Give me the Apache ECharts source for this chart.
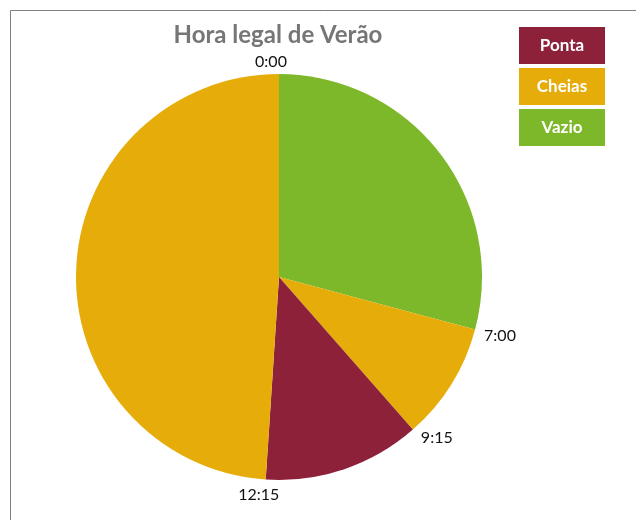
<!DOCTYPE html>
<html>
<head>
<meta charset="utf-8">
<script src="https://cdn.jsdelivr.net/npm/echarts@6/dist/echarts.min.js"></script>
<style>
  html, body { margin: 0; padding: 0; background: #fff; }
  #chart { width: 636px; height: 520px; }
</style>
</head>
<body>
<div id="chart"></div>
<script>
const myChart = echarts.init(document.querySelector('#chart'));

// slices in clock order starting at 0:00
const periods = ['Vazio', 'Cheias', 'Ponta', 'Cheias'];
const hours = [7, 2.25, 3, 11.75];
const startTimes = ['0:00', '7:00', '9:15', '12:15'];
const legendNames = ['Ponta', 'Cheias', 'Vazio'];

const periodColor = { Ponta: '#8c2139', Cheias: '#e6ad0a', Vazio: '#7db82a' };
const richKey = { Ponta: 'p', Cheias: 'c', Vazio: 'v' };
const font = 'Lato, "Open Sans", sans-serif';

// nudges for the time labels so they sit like in the original
const labelNudge = {
  '0:00': { dx: -4, dy: -12, align: 'center' },
  '7:00': { dx: 5, dy: 6 },
  '9:15': { dx: 4, dy: 8 },
  '12:15': { dx: -3, dy: 15, align: 'center' }
};

// zero-width marker slices at every start time, invisible filler slices in between
const markerData = [];
hours.forEach((h, i) => {
  markerData.push({ name: startTimes[i], value: 0 });
  markerData.push({ name: '', value: h, label: { show: false } });
});

const rich = {};
legendNames.forEach(n => {
  rich[richKey[n]] = {
    width: 86, height: 37, lineHeight: 37, align: 'center',
    backgroundColor: periodColor[n], color: '#fff',
    fontFamily: font, fontWeight: 'bold', fontSize: 17
  };
});

myChart.setOption({
  animation: false,
  title: {
    text: 'Hora legal de Verão',
    left: 273, top: 18, textAlign: 'center',
    textStyle: { fontFamily: font, fontWeight: 'bold', fontSize: 24, color: '#767676' }
  },
  legend: {
    orient: 'vertical',
    left: 509, top: 22,
    itemGap: 4, itemWidth: 0, itemHeight: 0,
    selectedMode: false,
    data: legendNames,
    formatter: name => `{${richKey[name]}|${name}}`,
    textStyle: { rich }
  },
  graphic: [{
    type: 'rect',
    silent: true,
    shape: { x: 10.5, y: 10.5, width: 700, height: 600 },
    style: { fill: 'none', stroke: '#7f7f7f', lineWidth: 1 }
  }],
  series: [
    {
      type: 'pie',
      center: [279, 277],
      radius: 203,
      startAngle: 90,
      silent: true,
      label: { show: false },
      labelLine: { show: false },
      emphasis: { disabled: true },
      data: periods.map((p, i) => ({
        name: p, value: hours[i], itemStyle: { color: periodColor[p] }
      }))
    },
    {
      type: 'pie',
      center: [279, 277],
      radius: 203,
      startAngle: 90,
      silent: true,
      avoidLabelOverlap: false,
      itemStyle: { color: 'rgba(0,0,0,0)' },
      emphasis: { disabled: true },
      label: {
        show: true, position: 'outside', distanceToLabelLine: 4,
        fontFamily: font, fontSize: 16, color: '#111'
      },
      labelLine: { show: false, length: 0, length2: 0 },
      labelLayout: params => labelNudge[params.text] || {},
      data: markerData
    }
  ]
});
</script>
</body>
</html>
